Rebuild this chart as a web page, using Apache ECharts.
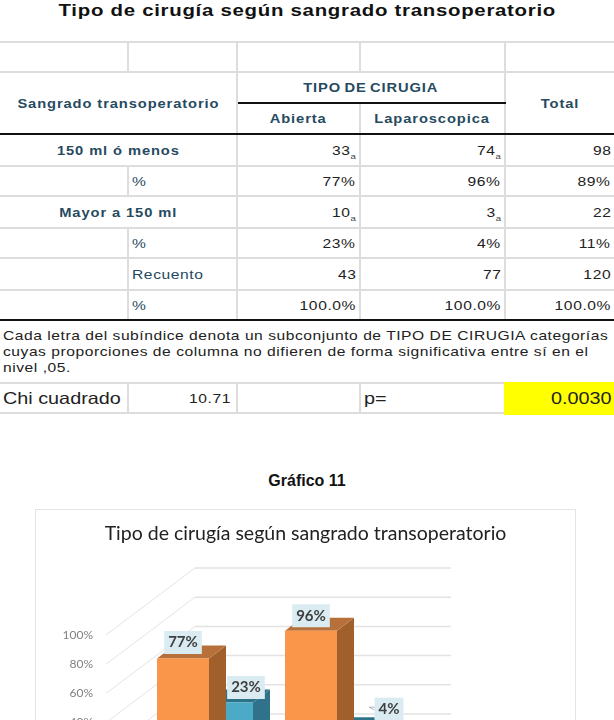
<!DOCTYPE html>
<html>
<head>
<meta charset="utf-8">
<script src="https://cdn.jsdelivr.net/npm/echarts@6/dist/echarts.min.js"></script>
<style>
html, body { margin: 0; padding: 0; background: #fff; }
body { width: 614px; height: 720px; overflow: hidden; position: relative; font-family: 'Liberation Sans', Arial, sans-serif; }
.doc-title { position: absolute; left: 0; top: 0; width: 614px; text-align: center; line-height: 22px; font-size: 17px; font-weight: bold; letter-spacing: 0.6px; color: #111; }
.doc-title span { display: inline-block; transform: scaleX(1.2); white-space: nowrap; }
table.cross { position: absolute; left: 0; top: 41px; width: 614px; table-layout: fixed; border-collapse: collapse; font-size: 13px; letter-spacing: 0.5px; color: #222; }
table.cross td { border: 2px solid #dddddd; padding: 0 3px; text-align: right; overflow: hidden; white-space: nowrap; }
table.cross td.l { border-left: 0; }
table.cross td.r { border-right: 0; }
table.cross td.norb { border-right: 0; }
table.cross td.tt { border-top: 2px solid #111; }
table.cross td.tb { border-bottom: 2px solid #111; }
table.cross .s { display: inline-block; transform: scaleX(1.2); transform-origin: right center; }
table.cross td.head, table.cross td.rowh { color: #264a60; font-weight: bold; text-align: center; letter-spacing: 0.8px; }
table.cross td.head .s, table.cross td.rowh .s { transform: scaleX(1.13); transform-origin: center center; }
table.cross td.stat { color: #264a60; text-align: left; }
table.cross td.stat .s, table.cross td.note .s, table.cross td.chi .s { transform-origin: left center; }
table.cross sub { font-size: 8px; line-height: 0; letter-spacing: 0; color: #444; }
table.cross td.note { text-align: left; border-left: 0; border-right: 0; line-height: 16px; padding: 1px 3px 0 3px; letter-spacing: 0.45px; }
table.cross td.chi { font-size: 16.5px; text-align: left; letter-spacing: 0; }
table.cross td.hl { background: #ffff00; font-size: 16.5px; letter-spacing: 0; border-top: 3px solid #ffff00; border-left: 3px solid #ffff00; border-bottom: 3px solid #ffff00; }
.chart-title { position: absolute; left: 0; top: 472px; width: 614px; text-align: center; font-size: 16px; font-weight: bold; line-height: 18px; color: #111; }
.frame { position: absolute; left: 35px; top: 509px; width: 541px; height: 340px; border: 1px solid #e4e4e4; box-sizing: border-box; }
#chart { position: absolute; left: 0; top: 0; width: 539px; height: 338px; }
</style>
</head>
<body>
<div class="doc-title"><span>Tipo de cirugía según sangrado transoperatorio</span></div>
<table class="cross" id="cross"></table>
<div class="chart-title">Gráfico 11</div>
<div class="frame"><div id="chart"></div></div>

<script>
// tabla
var colWidths = [128, 109, 123, 145, 109]
var rowHeights = [30, 31, 31, 32, 30, 32, 30, 32, 30, 63, 30]
var rowNames = ['150 ml ó menos', 'Mayor a 150 ml']
var counts = [['33', '74', '98'], ['10', '3', '22']]
var percents = [['77%', '96%', '89%'], ['23%', '4%', '11%']]
var totalCounts = ['43', '77', '120']
var totalPercents = ['100.0%', '100.0%', '100.0%']
var noteLines = [
  'Cada letra del subíndice denota un subconjunto de TIPO DE CIRUGIA categorías',
  'cuyas proporciones de columna no difieren de forma significativa entre sí en el',
  'nivel ,05.'
]
var chiValue = '10.71'
var pValue = '0.0030'

// grafico
var surgeryTypes = ['Abierta', 'Laparoscopica']
var bleedingGroups = ['150 ml ó menos', 'Mayor a 150 ml']
var smallBleeding = [77, 96]
var largeBleeding = [23, 4]
var axisTicks = [0, 20, 40, 60, 80, 100]

function s(text) {
  return '<span class="s">' + text + '</span>'
}

function buildTable() {
  var html = '<colgroup>' + colWidths.map(function (w) { return '<col style="width:' + w + 'px">' }).join('') + '</colgroup>'
  function tr(i, cells) {
    return '<tr style="height:' + rowHeights[i] + 'px">' + cells + '</tr>'
  }
  function sub(v) { return s(v + '<sub>a</sub>') }
  html += tr(0, '<td class="l"></td><td></td><td></td><td></td><td class="r"></td>')
  html += tr(1, '<td class="head l tt tb" colspan="2" rowspan="2">' + s('Sangrado transoperatorio') + '</td>' +
    '<td class="head tt tb" colspan="2" style="word-spacing:-1.5px">' + s('TIPO DE CIRUGIA') + '</td>' +
    '<td class="head r tt tb" rowspan="2">' + s('Total') + '</td>')
  html += tr(2, '<td class="head tb">' + s(surgeryTypes[0]) + '</td><td class="head tb">' + s(surgeryTypes[1]) + '</td>')
  html += tr(3, '<td class="rowh l norb" colspan="2">' + s(rowNames[0]) + '</td><td>' + sub(counts[0][0]) + '</td><td>' + sub(counts[0][1]) + '</td><td class="r">' + s(counts[0][2]) + '</td>')
  html += tr(4, '<td class="l"></td><td class="stat">' + s('%') + '</td><td>' + s(percents[0][0]) + '</td><td>' + s(percents[0][1]) + '</td><td class="r">' + s(percents[0][2]) + '</td>')
  html += tr(5, '<td class="rowh l norb" colspan="2">' + s(rowNames[1]) + '</td><td>' + sub(counts[1][0]) + '</td><td>' + sub(counts[1][1]) + '</td><td class="r">' + s(counts[1][2]) + '</td>')
  html += tr(6, '<td class="l"></td><td class="stat">' + s('%') + '</td><td>' + s(percents[1][0]) + '</td><td>' + s(percents[1][1]) + '</td><td class="r">' + s(percents[1][2]) + '</td>')
  html += tr(7, '<td class="l"></td><td class="stat">' + s('Recuento') + '</td><td>' + s(totalCounts[0]) + '</td><td>' + s(totalCounts[1]) + '</td><td class="r">' + s(totalCounts[2]) + '</td>')
  html += tr(8, '<td class="l tb"></td><td class="stat tb">' + s('%') + '</td><td class="tb">' + s(totalPercents[0]) + '</td><td class="tb">' + s(totalPercents[1]) + '</td><td class="r tb">' + s(totalPercents[2]) + '</td>')
  html += tr(9, '<td class="note tt" colspan="5">' + noteLines.map(s).join('<br>') + '</td>')
  html += tr(10, '<td class="chi l">' + s('Chi cuadrado') + '</td><td style="padding-right:5px">' + s(chiValue) + '</td><td></td><td class="chi">' + s('p=') + '</td><td class="hl r">' + s(pValue) + '</td>')
  document.getElementById('cross').innerHTML = html
}
buildTable()

var chart = echarts.init(document.getElementById('chart'))

// proyeccion del grafico 3D de Excel: fondo de la caja y profundidad de cada barra
var wallDepth = [89, -67]
var depths = { orange: [13, -10], teal: [57, -45] }
var barWidth = 52
var barDepth = [17, -13]

function barRender(depth, faces, labelShift) {
  return function (params, api) {
    var cat = api.value(0)
    var val = api.value(1)
    var p = api.coord([cat, val])
    var base = api.coord([cat, 0])
    var x = p[0] + depth[0] - barWidth / 2
    var top = p[1] + depth[1]
    var bottom = base[1] + depth[1]
    var dx = barDepth[0]
    var dy = barDepth[1]
    var shift = labelShift[params.dataIndex]
    var cx = x + barWidth / 2 + shift[0]
    var cy = top + shift[1]
    var children = [
      { type: 'polygon', shape: { points: [[x + barWidth, top], [x + barWidth + dx, top + dy], [x + barWidth + dx, bottom + dy], [x + barWidth, bottom]] }, style: { fill: faces.side } },
      { type: 'polygon', shape: { points: [[x, top], [x + dx, top + dy], [x + barWidth + dx, top + dy], [x + barWidth, top]] }, style: { fill: faces.top } },
      { type: 'rect', shape: { x: x, y: top, width: barWidth, height: bottom - top }, style: { fill: faces.front } }
    ]
    if (shift[2]) {
      // linea guia de la etiqueta del 4%
      children.push({ type: 'polyline', shape: { points: [[x + barWidth + 6, top - 14], [cx - 20, cy - 2], [cx - 12, cy - 2]] }, style: { fill: 'none', stroke: '#b5b5b5', lineWidth: 1 } })
    }
    children.push({
      type: 'text',
      z2: 10,
      style: {
        text: api.value(1) + '%',
        x: cx,
        y: cy,
        align: 'center',
        verticalAlign: 'middle',
        font: 'bold 15px Lato',
        fill: '#404040',
        backgroundColor: '#daecf2',
        padding: [4, 4, 4, 4]
      }
    })
    return { type: 'group', children: children }
  }
}

function wallRender(params, api) {
  var p = api.coord([0, api.value(0)])
  var gridRect = params.coordSys
  var x0 = gridRect.x
  var y0 = p[1]
  var bx = x0 + wallDepth[0]
  var by = y0 + wallDepth[1]
  return {
    type: 'group',
    children: [
      { type: 'line', shape: { x1: x0, y1: y0, x2: bx, y2: by }, style: { stroke: '#e3e3e3', lineWidth: 1 } },
      { type: 'line', shape: { x1: bx, y1: by, x2: bx + gridRect.width, y2: by }, style: { stroke: '#e3e3e3', lineWidth: 1.5 } }
    ]
  }
}

function catData(values) {
  return values.map(function (v, i) { return [i, v] })
}

chart.setOption({
  animation: false,
  title: {
    text: 'Tipo de cirugía según sangrado transoperatorio',
    left: 'center',
    top: 9,
    textStyle: { fontFamily: 'Lato', fontSize: 19.5, fontWeight: 'normal', color: '#222' }
  },
  grid: { left: 70, top: 125, width: 256, height: 146 },
  xAxis: {
    type: 'category',
    data: surgeryTypes,
    axisLine: { show: false },
    axisTick: { show: false },
    axisLabel: { color: '#666', fontFamily: 'Lato', fontSize: 12 }
  },
  yAxis: {
    type: 'value',
    min: 0,
    max: 100,
    interval: 20,
    axisLine: { show: false },
    axisTick: { show: false },
    splitLine: { show: false },
    axisLabel: { formatter: '{value}%', color: '#808080', fontFamily: 'Lato', fontSize: 12, margin: 13 }
  },
  series: [
    {
      type: 'custom',
      name: 'pared',
      coordinateSystem: 'cartesian2d',
      silent: true,
      encode: { y: 0 },
      data: axisTicks.map(function (t) { return [t] }),
      renderItem: wallRender
    },
    {
      type: 'custom',
      name: bleedingGroups[1],
      encode: { x: 0, y: 1 },
      data: catData(largeBleeding),
      renderItem: barRender(depths.teal, { front: '#4babc7', side: '#2f7289', top: '#2e7488' }, [[19, -15], [34, -21, true]])
    },
    {
      type: 'custom',
      name: bleedingGroups[0],
      encode: { x: 0, y: 1 },
      data: catData(smallBleeding),
      renderItem: barRender(depths.orange, { front: '#f9964a', side: '#a1602b', top: '#b8703a' }, [[0, -16], [0, -15]])
    }
  ]
})
</script>
</body>
</html>
